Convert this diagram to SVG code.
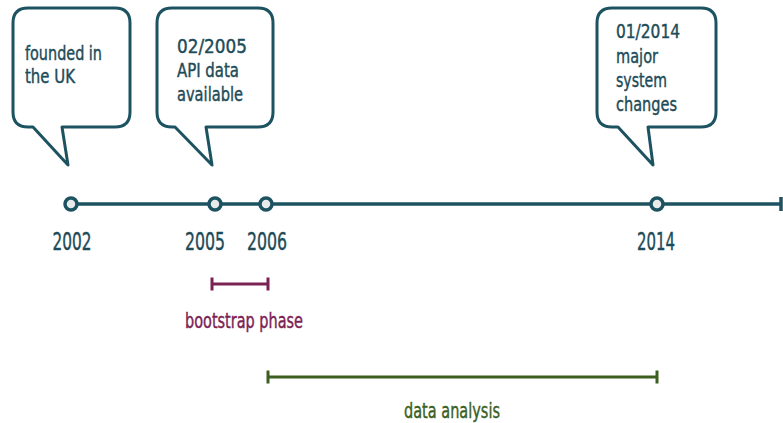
<svg xmlns="http://www.w3.org/2000/svg" width="783" height="423" viewBox="0 0 783 423">
<style>
.bub{fill:#fff;stroke:#1d5361;stroke-width:3;stroke-linejoin:round}
.bt{font-family:"DejaVu Sans Condensed","DejaVu Sans",sans-serif;font-size:19.500px;fill:#1d4b57;stroke:#1d4b57;stroke-width:0.400px}
.yr{font-family:"DejaVu Sans Condensed","DejaVu Sans",sans-serif;font-size:24px;fill:#1d4b57;stroke:#1d4b57;stroke-width:0.400px;text-anchor:middle}
.dot{fill:#e9eaea;stroke:#1d5361;stroke-width:3.5}
.lbl{font-family:"DejaVu Sans Condensed","DejaVu Sans",sans-serif;font-size:21px;stroke-width:0.400px;text-anchor:middle}
</style>
<rect width="783" height="423" fill="#fff"/>
<g id="connectors">
<line x1="71" y1="204" x2="781" y2="204" stroke="#1d5361" stroke-width="3.5"/>
<line x1="781" y1="197" x2="781" y2="211" stroke="#1d5361" stroke-width="3.5"/>
<g id="bootstrap-span" stroke="#7b2253" stroke-width="3">
<line x1="212" y1="284" x2="268" y2="284"/>
<line x1="212" y1="277.500" x2="212" y2="290.500"/>
<line x1="268" y1="277.500" x2="268" y2="290.500"/>
</g>
<g id="analysis-span" stroke="#3a5f1f" stroke-width="3">
<line x1="268" y1="377" x2="657" y2="377"/>
<line x1="268" y1="370.500" x2="268" y2="383.500"/>
<line x1="657" y1="370.500" x2="657" y2="383.500"/>
</g>
</g>
<g id="bubble-2002">
<path class="bub" d="M33,127 L28,127 Q13,127 13,112 L13,23 Q13,8 28,8 L115,8 Q130,8 130,23 L130,112 Q130,127 115,127 L62,127 L68,165 Z"/>
<text class="bt" x="25" y="60" textLength="77" lengthAdjust="spacingAndGlyphs">founded in</text>
<text class="bt" x="25" y="83" textLength="50" lengthAdjust="spacingAndGlyphs">the UK</text>
</g>
<g id="bubble-2005">
<path class="bub" d="M175,127 L172,127 Q157,127 157,112 L157,23 Q157,8 172,8 L258,8 Q273,8 273,23 L273,112 Q273,127 258,127 L206,127 L212,165 Z"/>
<text class="bt" x="177" y="53" textLength="70" lengthAdjust="spacingAndGlyphs">02/2005</text>
<text class="bt" x="177" y="77" textLength="62" lengthAdjust="spacingAndGlyphs">API data</text>
<text class="bt" x="177" y="101" textLength="66" lengthAdjust="spacingAndGlyphs">available</text>
</g>
<g id="bubble-2014">
<path class="bub" d="M618,127 L612,127 Q597,127 597,112 L597,23 Q597,8 612,8 L701,8 Q716,8 716,23 L716,112 Q716,127 701,127 L648,127 L653,165 Z"/>
<text class="bt" x="616" y="38" textLength="64" lengthAdjust="spacingAndGlyphs">01/2014</text>
<text class="bt" x="616" y="63" textLength="42" lengthAdjust="spacingAndGlyphs">major</text>
<text class="bt" x="616" y="87" textLength="51" lengthAdjust="spacingAndGlyphs">system</text>
<text class="bt" x="616" y="111" textLength="61" lengthAdjust="spacingAndGlyphs">changes</text>
</g>
<g id="y2002"><circle class="dot" cx="71" cy="204" r="6"/><text class="yr" x="72" y="250" textLength="39" lengthAdjust="spacingAndGlyphs">2002</text></g>
<g id="y2005"><circle class="dot" cx="215" cy="204" r="6"/><text class="yr" x="205" y="250" textLength="40" lengthAdjust="spacingAndGlyphs">2005</text></g>
<g id="y2006"><circle class="dot" cx="266" cy="204" r="6"/><text class="yr" x="267" y="250" textLength="40" lengthAdjust="spacingAndGlyphs">2006</text></g>
<g id="y2014"><circle class="dot" cx="657" cy="204" r="6"/><text class="yr" x="656" y="250" textLength="38" lengthAdjust="spacingAndGlyphs">2014</text></g>
<g id="bootstrap-phase"><text class="lbl" x="244" y="328" fill="#7b2253" stroke="#7b2253" textLength="118" lengthAdjust="spacingAndGlyphs">bootstrap phase</text></g>
<g id="data-analysis"><text class="lbl" x="452" y="418" fill="#3a5f1f" stroke="#3a5f1f" textLength="96" lengthAdjust="spacingAndGlyphs">data analysis</text></g>
</svg>
